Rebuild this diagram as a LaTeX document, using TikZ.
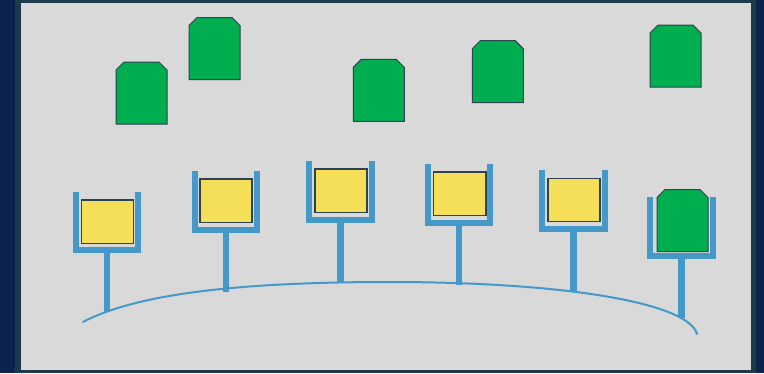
\documentclass[tikz,border=0pt]{standalone}
\usetikzlibrary{calc}
\definecolor{navyc}{HTML}{0C2350}
\definecolor{tealc}{HTML}{1D3A4B}
\definecolor{bggray}{HTML}{D9D9D9}
\definecolor{tagg}{HTML}{00AE4F}
\definecolor{boxy}{HTML}{F5DF58}
\definecolor{cupb}{HTML}{4499C8}
\definecolor{edgec}{HTML}{2E4252}
\tikzset{
  tagshape/.style={fill=tagg, draw=edgec, line width=1pt, line join=miter},
  boxshape/.style={fill=boxy, draw=edgec, line width=1.3pt},
  cupline/.style={draw=cupb, line width=6pt, line join=miter},
  stemline/.style={draw=cupb, line width=6.4pt},
  baseline/.style={draw=cupb, line width=2pt, line cap=round}
}
\begin{document}
\begin{tikzpicture}[x=1pt,y=-1pt]
\useasboundingbox (0,0) rectangle (764,373);
% frame
\fill[tealc] (0,0) rectangle (764,373);
\fill[navyc] (0,0) rectangle (15,373);
\fill[navyc] (756,0) rectangle (764,373);
\fill[bggray] (21,3) rectangle (751,369.5);

% base curve
\draw[baseline] (83,322) .. controls (140,292) and (250,282) .. (390,282)
  .. controls (560,282) and (688,302) .. (697,334);

% cups with stems
\foreach \n/\xa/\xb/\ya/\yb/\ys in {1/73/141/192/253/312, 2/192/260/171/233/291.5,
    3/306/375/161/223/283, 4/425/493/164/226/285, 5/539/608/170/232/291.5,
    6/647/716/197/259/318}{
  \coordinate (cuptop\n) at ({(\xa+\xb)/2},\yb);
  \coordinate (foot\n) at ({(\xa+\xb)/2},\ys);
  \draw[cupline] (\xa+3,\ya) -- (\xa+3,\yb-3) -- (\xb-3,\yb-3) -- (\xb-3,\ya);
  \draw[stemline] (cuptop\n) -- (foot\n);
}

% yellow boxes
\foreach \n/\xa/\xb/\ya/\yb in {1/81.3/133.3/200/243.3, 2/200/252/179/222.5,
    3/315/367/169/212.5, 4/433.3/486/172/215.3, 5/548/600/178.3/221.7}{
  \draw[boxshape] (\xa,\ya) rectangle (\xb,\yb);
}

% green tags
\foreach \n/\xa/\ya in {1/116/62, 2/189/17.5, 3/353.3/59.3, 4/472.3/40.7,
    5/650/25, 6/657/189.5}{
  \draw[tagshape] (\xa,\ya+8) -- (\xa+8,\ya) -- (\xa+43,\ya) -- (\xa+51,\ya+8)
    -- (\xa+51,\ya+62) -- (\xa,\ya+62) -- cycle;
}
\end{tikzpicture}
\end{document}
